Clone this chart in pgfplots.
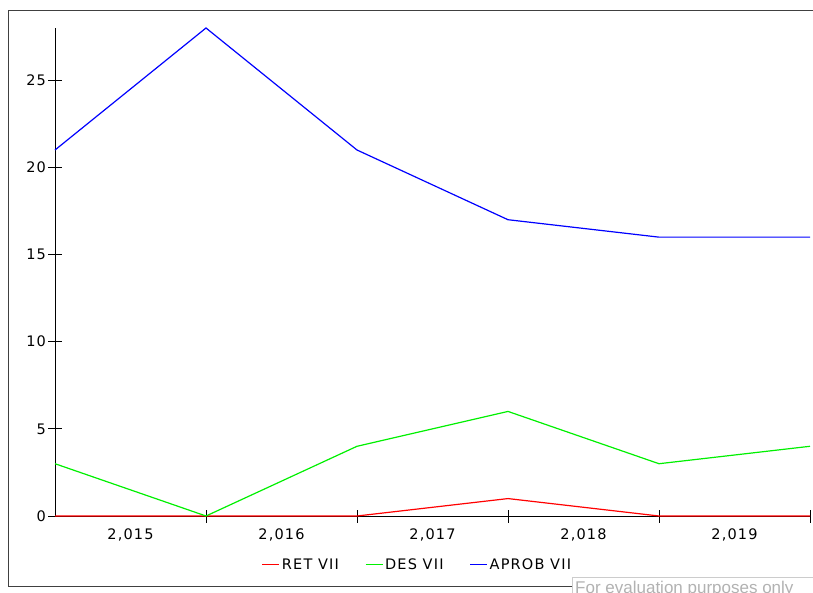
\documentclass[border=0pt]{standalone}
\usepackage{fontspec}
\setmainfont{DejaVu Sans}[LetterSpace=8]
\newfontfamily\wmfont{Liberation Sans}
\usepackage{pgfplots}
\pgfplotsset{compat=1.18}
\definecolor{retc}{RGB}{255,0,0}
\definecolor{desc}{RGB}{0,240,0}
\definecolor{aprc}{RGB}{0,0,255}
\begin{document}
\begin{tikzpicture}[x=1pt,y=1pt]
\useasboundingbox (0,0) rectangle (813,592);
\draw[line width=1pt, black!75] (8,581) rectangle (840,6);
\begin{axis}[
  at={(55pt,76pt)}, anchor=origin,
  width=755pt, height=488pt, scale only axis,
  xmin=0, xmax=5, ymin=0, ymax=28,
  clip=false,
  axis x line*=bottom, axis y line*=left,
  xtick pos=bottom, ytick pos=left,
  axis line style={-, black, line width=1pt},
  every tick/.style={black, line width=1pt},
  tick align=center,
  major tick length=13pt,
  ytick={0,5,10,15,20,25},
  xtick={1,2,3,4,5},
  xticklabels={},
  extra x ticks={0.5,1.5,2.5,3.5,4.5},
  extra x tick labels={{2,015},{2,016},{2,017},{2,018},{2,019}},
  extra x tick style={major tick length=0pt, xticklabel style={yshift=-9pt}},
  /pgf/number format/assume math mode=true,
  tick label style={font=\fontsize{14.5}{16}\selectfont},
  yticklabel style={xshift=1pt},
  legend style={at={(0.48,-0.1)}, anchor=center, draw=none, fill=none,
    font=\fontsize{14.5}{16}\selectfont, legend columns=3,
    /tikz/every even column/.append style={column sep=24pt}},
  legend image code/.code={\draw[mark repeat=2,mark phase=2] plot coordinates {(-3pt,0pt) (5.5pt,0pt) (14pt,0pt)};},
]
\addplot[color=retc, line width=1.2pt] coordinates {(0,0) (1,0) (2,0) (3,1) (4,0) (5,0)};
\addlegendentry{RET VII}
\addplot[color=desc, line width=1.2pt] coordinates {(0,3) (1,0) (2,4) (3,6) (4,3) (5,4)};
\addlegendentry{DES VII}
\addplot[color=aprc, line width=1.2pt] coordinates {(0,21) (1,28) (2,21) (3,17) (4,16) (5,16)};
\addlegendentry{APROB VII}
\end{axis}
\draw[black!20, line width=1pt, fill=white] (572,15) rectangle (840,-10);
\node[anchor=west, text=black!30, font=\wmfont\fontsize{17}{19}\selectfont, inner sep=0pt] at (575,3) {For evaluation purposes only};
\end{tikzpicture}
\end{document}
